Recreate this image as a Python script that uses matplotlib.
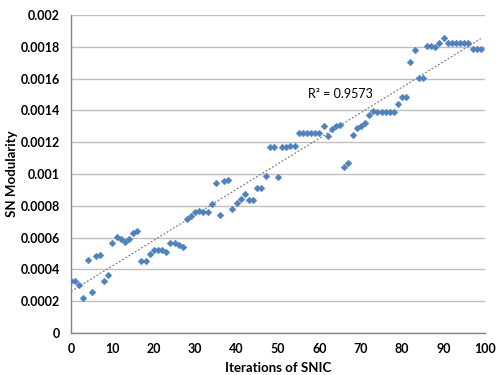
import numpy as np
import matplotlib
matplotlib.use("Agg")
import matplotlib.pyplot as plt

iterations = list(range(100))
modularity = [
    0.000327, 0.000325, 0.000304, 0.000218, 0.000460, 0.000256, 0.000486, 0.000493, 0.000327, 0.000365,
    0.000564, 0.000604, 0.000589, 0.000572, 0.000593, 0.000627, 0.000641, 0.000451, 0.000451, 0.000497,
    0.000520, 0.000520, 0.000520, 0.000509, 0.000566, 0.000566, 0.000555, 0.000539, 0.000715, 0.000734,
    0.000759, 0.000767, 0.000759, 0.000759, 0.000811, 0.000945, 0.000744, 0.000956, 0.000964, 0.000780,
    0.000820, 0.000843, 0.000874, 0.000838, 0.000838, 0.000912, 0.000912, 0.000985, 0.001172, 0.001168,
    0.000979, 0.001168, 0.001168, 0.001175, 0.001178, 0.001258, 0.001260, 0.001260, 0.001260, 0.001260,
    0.001260, 0.001302, 0.001239, 0.001285, 0.001302, 0.001310, 0.001044, 0.001071, 0.001247, 0.001289,
    0.001300, 0.001319, 0.001371, 0.001396, 0.001388, 0.001388, 0.001388, 0.001388, 0.001388, 0.001440,
    0.001484, 0.001484, 0.001702, 0.001780, 0.001606, 0.001606, 0.001803, 0.001803, 0.001800, 0.001824,
    0.001855, 0.001826, 0.001826, 0.001826, 0.001826, 0.001826, 0.001826, 0.001784, 0.001784, 0.001784,
]
r2_label = "R² = 0.9573"
x_ticks = list(range(0, 101, 10))
y_ticks = [0, 0.0002, 0.0004, 0.0006, 0.0008, 0.001, 0.0012, 0.0014, 0.0016, 0.0018, 0.002]
y_tick_labels = ["0", "0.0002", "0.0004", "0.0006", "0.0008", "0.001", "0.0012", "0.0014", "0.0016", "0.0018", "0.002"]

plt.rcParams['font.family'] = ['Lato', 'DejaVu Sans']

fig = plt.figure(figsize=(4.96, 3.75), dpi=100)
ax = fig.add_axes([71/496, 1 - 333/375, (485-71)/496, (333-15)/375])

x = np.array(iterations, dtype=float)
y = np.array(modularity)
ax.scatter(x, y, marker='D', s=12, color='#4F81BD', edgecolors='#4F81BD', linewidths=0.3, zorder=3)

slope, intercept = np.polyfit(x, y, 1)
xt = np.array([x.min(), x.max()])
ax.plot(xt, slope * xt + intercept, linestyle=(0, (1.5, 1.5)), color='#808080', linewidth=0.9, zorder=2)

ax.text(65, 0.001505, r2_label, fontsize=9, color='#000000', ha='center', va='center')

ax.set_xlim(0, 100)
ax.set_ylim(0, 0.002)
ax.set_xticks(x_ticks)
ax.set_xticklabels([str(t) for t in x_ticks], fontweight='bold', fontsize=9)
ax.set_yticks(y_ticks)
ax.set_yticklabels(y_tick_labels, fontweight='bold', fontsize=9)
ax.tick_params(axis='y', length=0, pad=8)
ax.tick_params(axis='x', length=0, pad=7)

ax.yaxis.grid(True, color='#BFBFBF', linewidth=1)
ax.set_axisbelow(True)
for s in ['top', 'right']:
    ax.spines[s].set_visible(False)
for s in ['left', 'bottom']:
    ax.spines[s].set_color('#868686')
    ax.spines[s].set_linewidth(1)

ax.set_xlabel("Iterations of SNIC", fontweight='bold', fontsize=9.5, labelpad=5)
ax.set_ylabel("SN Modularity", fontweight='bold', fontsize=9.5, labelpad=2)

fig.savefig("out.png", dpi=100)
